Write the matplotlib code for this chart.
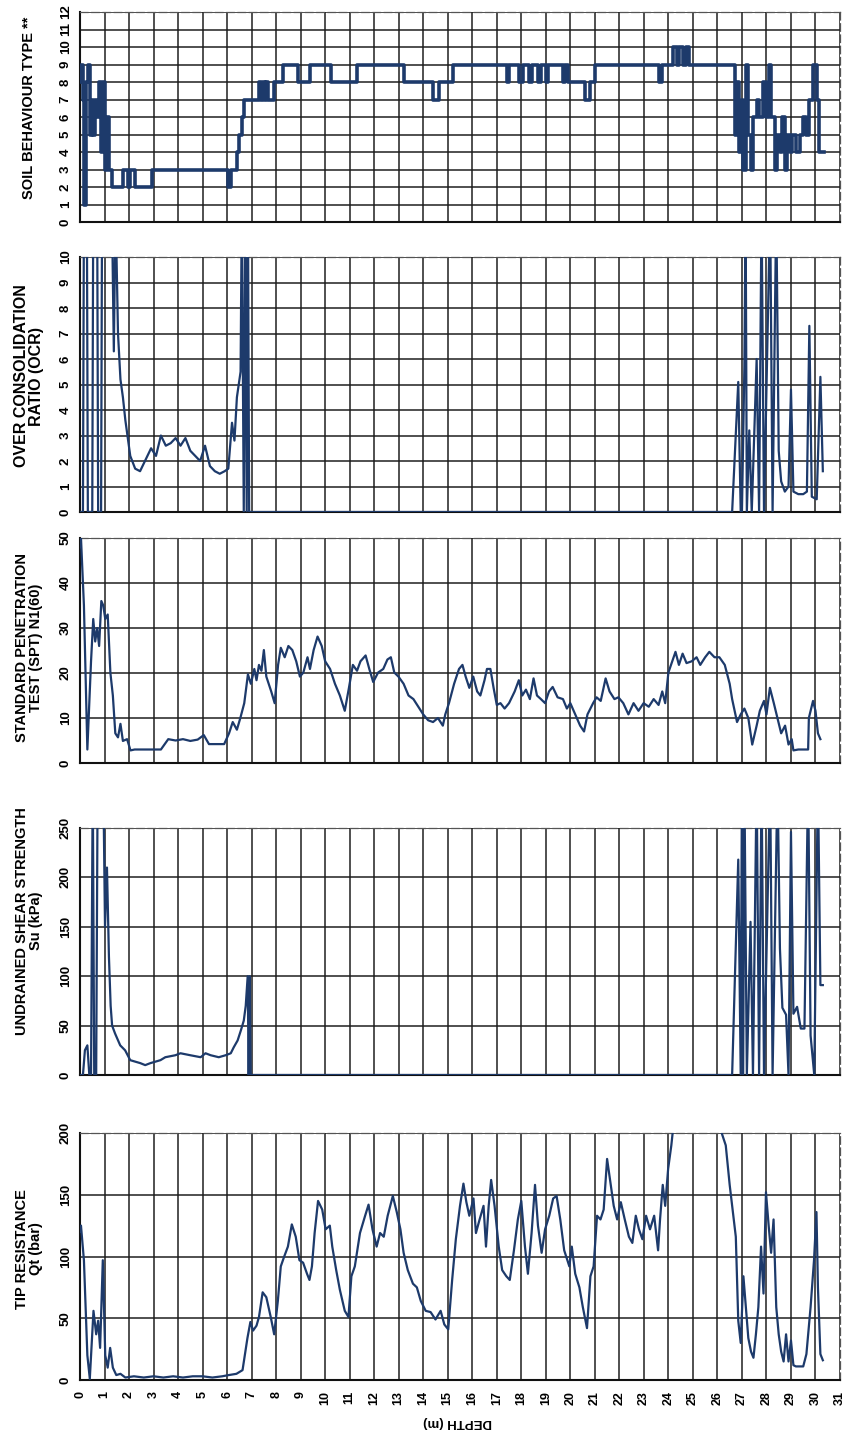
import matplotlib
matplotlib.use("Agg")
import matplotlib.pyplot as plt

plt.rcParams['font.family'] = ['Liberation Sans', 'DejaVu Sans']

# ---- data (depth in m) ----
sbt_depth = [0.0, 0.06, 0.12, 0.18, 0.26, 0.34, 0.4, 0.48, 0.55, 0.62, 0.7, 0.78, 0.86, 0.94, 1.0,
             1.1, 1.18, 1.3, 1.75, 1.95, 2.05, 2.25, 2.95, 6.05, 6.15, 6.4, 6.5, 6.6, 6.7, 7.3, 7.4,
             7.45, 7.55, 7.6, 7.65, 7.9, 8.3, 8.9, 9.4, 10.25, 11.3, 13.2, 14.4, 14.65, 15.2, 17.4,
             17.5, 17.9, 18.05, 18.3, 18.45, 18.7, 18.8, 19.0, 19.1, 19.7, 19.8, 19.9, 20.6, 20.8,
             21.0, 23.6, 23.75, 24.2, 24.35, 24.45, 24.6, 24.7, 24.85, 26.7, 26.8, 26.9, 27.0, 27.05,
             27.15, 27.25, 27.35, 27.45, 27.6, 27.7, 27.85, 28.0, 28.1, 28.2, 28.35, 28.45, 28.55,
             28.65, 28.75, 28.85, 28.95, 29.05, 29.2, 29.35, 29.5, 29.6, 29.75, 29.9, 30.05, 30.15,
             30.35]
sbt_value = [8, 9, 7, 1, 8, 9, 5, 7, 5, 7, 6, 8, 4, 8, 3,
             6, 3, 2, 3, 2, 3, 2, 3, 2, 3, 4, 5, 6, 7, 8, 7,
             8, 7, 8, 7, 8, 9, 8, 9, 8, 9, 8, 7, 8, 9, 8,
             9, 8, 9, 8, 9, 8, 9, 8, 9, 8, 9, 8, 7, 8,
             9, 8, 9, 10, 9, 10, 9, 10, 9, 5, 8, 4, 7, 3,
             9, 5, 3, 6, 7, 6, 8, 6, 9, 6, 3, 5, 4,
             6, 3, 5, 4, 5, 4, 5, 6, 5, 7, 9, 7, 4,
             4]

ocr_depth = [0.0, 0.12, 0.16, 0.28, 0.32, 0.5, 0.54, 0.7, 0.74, 0.86, 0.9, 1.3, 1.38, 1.45, 1.55,
             1.65, 1.75, 1.85, 2.05, 2.25, 2.45, 2.65, 2.9, 3.1, 3.3, 3.5, 3.7, 3.9, 4.1, 4.3, 4.5,
             4.7, 4.9, 5.1, 5.3, 5.5, 5.7, 5.9, 6.05, 6.2, 6.3, 6.4, 6.55, 6.6, 6.68, 6.74, 6.8,
             6.85, 6.9, 26.6, 26.85, 26.95, 27.0, 27.1, 27.15, 27.2, 27.3, 27.4, 27.6, 27.7, 27.8,
             27.9, 28.15, 28.25, 28.4, 28.5, 28.6, 28.75, 28.9, 29.0, 29.1, 29.3, 29.5, 29.65,
             29.75, 29.85, 30.05, 30.2, 30.3]
ocr_value = [0, 0, 12, 12, 0, 0, 12, 12, 0, 0, 12, 12, 6.3, 12, 7,
             5.2, 4.5, 3.6, 2.2, 1.7, 1.6, 2.0, 2.5, 2.2, 3.0, 2.6, 2.7, 2.9, 2.6, 2.9, 2.4,
             2.2, 2.0, 2.6, 1.8, 1.6, 1.5, 1.6, 1.7, 3.5, 2.8, 4.5, 5.5, 12, 0, 12, 0,
             12, 0, 0, 5.1, 0, 0, 5.7, 12, 0, 3.2, 0, 6.0, 0, 12,
             0, 12, 0, 12, 2.4, 1.2, 0.8, 1.0, 4.8, 0.8, 0.7, 0.7, 0.8,
             7.3, 0.6, 0.5, 5.3, 1.6]

spt_depth = [0.0, 0.04, 0.16, 0.3, 0.45, 0.54, 0.62, 0.7, 0.78, 0.87, 0.95, 1.03, 1.13, 1.24, 1.34,
             1.44, 1.55, 1.65, 1.75, 1.92, 2.06, 2.23, 3.3, 3.6, 3.9, 4.2, 4.5, 4.8, 5.05, 5.26, 5.88,
             6.08, 6.23, 6.4, 6.54, 6.7, 6.85, 6.97, 7.11, 7.2, 7.3, 7.4, 7.5, 7.6, 7.8, 7.94, 8.08,
             8.19, 8.35, 8.5, 8.66, 8.82, 8.97, 9.11, 9.28, 9.38, 9.53, 9.69, 9.86, 10.0, 10.2, 10.4,
             10.6, 10.8, 10.97, 11.13, 11.3, 11.44, 11.65, 11.8, 11.96, 12.16, 12.37, 12.54, 12.68,
             12.82, 12.99, 13.2, 13.4, 13.6, 13.8, 14.0, 14.2, 14.4, 14.6, 14.8, 14.9, 15.05, 15.26,
             15.46, 15.6, 15.73, 15.88, 16.04, 16.2, 16.33, 16.5, 16.6, 16.74, 16.87, 17.0, 17.15,
             17.32, 17.5, 17.73, 17.9, 18.04, 18.19, 18.35, 18.5, 18.64, 18.8, 18.97, 19.13, 19.28,
             19.48, 19.7, 19.86, 20.0, 20.2, 20.4, 20.56, 20.7, 20.93, 21.07, 21.24, 21.44, 21.6,
             21.8, 21.96, 22.16, 22.37, 22.58, 22.78, 22.99, 23.2, 23.4, 23.6, 23.75, 23.87, 24.0,
             24.16, 24.29, 24.43, 24.58, 24.74, 24.95, 25.15, 25.3, 25.5, 25.67, 25.88, 26.08, 26.3,
             26.5, 26.6, 26.8, 26.95, 27.1, 27.26, 27.42, 27.6, 27.73, 27.9, 28.0, 28.14, 28.3,
             28.45, 28.6, 28.76, 28.9, 29.03, 29.1, 29.3, 29.5, 29.7, 29.73, 29.9, 30.0, 30.1, 30.2]
spt_value = [48, 50, 35, 3, 22.6, 32, 27, 30, 26, 36, 35, 32, 33, 20, 15,
             6.6, 5.7, 8.7, 4.9, 5.3, 2.8, 3, 3, 5.3, 5.0, 5.3, 4.9, 5.2, 6.2, 4.2, 4.2,
             6.6, 9.1, 7.4, 10, 13.3, 19.7, 17.6, 20.9, 18.4, 21.8, 20.5, 25.1, 19.2, 15.9, 13.3, 21.8,
             25.6, 23.5, 26, 25.1, 22.6, 19.2, 20.1, 23.5, 20.9, 25.1, 28.1, 26, 22.6, 20.9, 17.6,
             15, 11.6, 16.7, 21.8, 20.5, 22.6, 23.9, 20.9, 18, 20.1, 20.9, 23, 23.5,
             20.1, 19.2, 17.6, 15, 14.2, 12.5, 10.8, 9.5, 9.1, 10, 8.3, 10.8, 13.3, 17.6,
             20.9, 21.8, 19.2, 16.7, 19.2, 15.9, 15, 18.4, 20.9, 20.9, 16.7, 12.9, 13.3,
             12.1, 13.3, 15.9, 18.4, 15, 16.3, 14.2, 18.8, 15, 14.2, 13.3, 15.9, 16.9,
             14.6, 14.2, 12.1, 13.3, 10.8, 8.3, 7, 10.8, 13.3, 14.6, 13.8, 18.8, 15.9,
             14.2, 14.6, 13.3, 10.8, 13.3, 11.6, 13.3, 12.5, 14.2, 12.9, 15.9, 13.3, 20.1,
             22.6, 24.7, 21.8, 24.3, 22.2, 22.6, 23.5, 21.8, 23.5, 24.7, 23.5, 23.5, 21.8,
             17.6, 14.2, 9.1, 10.8, 12.1, 10, 4.1, 8.3, 11.6, 13.8, 10.8, 16.7, 13.3,
             10, 6.6, 8.3, 4.1, 5.3, 2.8, 3, 3, 3, 10, 13.8, 11.6, 6.6, 5.3]

su_depth = [0.0, 0.12, 0.2, 0.3, 0.38, 0.45, 0.52, 0.58, 0.66, 0.72, 0.8, 0.88, 0.95, 1.02, 1.1,
            1.18, 1.25, 1.31, 1.43, 1.64, 1.84, 2.05, 2.46, 2.66, 2.87, 3.28, 3.48, 3.89, 4.1, 4.5,
            4.92, 5.12, 5.33, 5.66, 5.94, 6.15, 6.27, 6.43, 6.56, 6.68, 6.76, 6.84, 6.88, 6.92,
            6.96, 7.0, 26.6, 26.85, 26.95, 27.0, 27.05, 27.1, 27.2, 27.35, 27.45, 27.6, 27.7, 27.8,
            27.9, 28.15, 28.25, 28.45, 28.55, 28.65, 28.8, 28.9, 29.0, 29.1, 29.25, 29.4, 29.55,
            29.7, 29.8, 29.95, 30.1, 30.2, 30.3]
su_value = [0, 0, 25, 30, 0, 0, 300, 0, 0, 300, 300, 260, 300, 150, 210,
            120, 70, 50, 42, 30, 25, 15, 12, 10, 12, 15, 18, 20, 22, 20,
            18, 22, 20, 18, 20, 22, 28, 35, 45, 55, 70, 100, 0, 100,
            0, 0, 0, 218, 0, 300, 0, 300, 0, 155, 0, 300, 0, 300,
            0, 300, 0, 300, 128, 68, 61, 0, 246, 62, 69, 47, 47,
            300, 40, 0, 300, 91, 91]

qt_depth = [0.0, 0.04, 0.16, 0.3, 0.4, 0.55, 0.66, 0.74, 0.82, 0.93, 1.03, 1.13, 1.23, 1.34, 1.48,
            1.65, 1.85, 2.2, 2.6, 3.0, 3.4, 3.8, 4.2, 4.6, 5.0, 5.4, 5.8, 6.07, 6.38, 6.63, 6.83,
            6.95, 7.06, 7.2, 7.3, 7.45, 7.6, 7.78, 7.92, 8.07, 8.19, 8.33, 8.48, 8.64, 8.8, 8.95,
            9.1, 9.26, 9.36, 9.46, 9.57, 9.71, 9.88, 10.02, 10.19, 10.29, 10.45, 10.6, 10.8, 10.95,
            11.07, 11.21, 11.42, 11.63, 11.77, 11.93, 12.1, 12.24, 12.39, 12.55, 12.76, 12.92, 13.07,
            13.2, 13.37, 13.58, 13.74, 13.9, 14.1, 14.3, 14.5, 14.71, 14.86, 15.02, 15.18, 15.33,
            15.5, 15.64, 15.76, 15.88, 16.05, 16.15, 16.3, 16.46, 16.56, 16.67, 16.77, 16.91, 17.08,
            17.22, 17.39, 17.53, 17.7, 17.86, 18.0, 18.15, 18.27, 18.42, 18.56, 18.68, 18.83, 18.97,
            19.14, 19.3, 19.44, 19.59, 19.75, 19.96, 20.06, 20.2, 20.37, 20.51, 20.68, 20.82, 20.95,
            21.09, 21.23, 21.36, 21.5, 21.65, 21.77, 21.91, 22.06, 22.22, 22.39, 22.53, 22.67, 22.8,
            22.94, 23.09, 23.25, 23.42, 23.58, 23.66, 23.77, 23.87, 23.99, 24.12, 24.2, 24.3, 26.0,
            26.09, 26.34, 26.5, 26.75, 26.85, 26.95, 27.06, 27.16, 27.26, 27.37, 27.47, 27.57, 27.67,
            27.78, 27.88, 27.98, 28.09, 28.19, 28.29, 28.4, 28.5, 28.6, 28.7, 28.8, 28.9, 29.0, 29.1,
            29.2, 29.35, 29.5, 29.63, 29.8, 29.94, 30.04, 30.1, 30.2, 30.3]
qt_value = [120, 125, 97, 20, 1, 56, 37, 48, 26, 97, 20, 10, 26, 10, 4,
            5, 2, 3, 2, 3, 2, 3, 2, 3, 3, 2, 3, 4, 5, 8, 34,
            47, 40, 44, 51, 71, 67, 51, 37, 64, 92, 100, 108, 126, 116, 97,
            95, 86, 81, 92, 119, 145, 138, 122, 125, 108, 89, 73, 56, 51,
            84, 92, 119, 133, 142, 122, 108, 119, 116, 133, 149, 136, 122,
            103, 89, 78, 75, 64, 56, 55, 49, 56, 45, 41, 81, 114,
            141, 159, 144, 133, 147, 119, 130, 141, 108, 141, 162, 141, 108,
            89, 84, 81, 105, 130, 145, 108, 86, 119, 158, 125, 103, 122,
            133, 147, 149, 130, 105, 92, 108, 86, 75, 59, 42, 84, 92,
            133, 130, 138, 179, 158, 141, 130, 144, 130, 116, 111, 133, 122,
            114, 133, 122, 133, 105, 130, 158, 141, 171, 190, 205, 230, 230,
            205, 190, 158, 116, 48, 30, 84, 59, 34, 23, 18, 37, 59,
            108, 70, 152, 125, 103, 130, 59, 37, 23, 15, 37, 15, 32, 12,
            11, 11, 11, 21, 59, 97, 136, 75, 21, 16]

# label, depth, value, ymax, yticks, axes bottom (px from bottom), height (px), label centre y (px from top), label size
panels = [
    ("SOIL BEHAVIOUR TYPE **", sbt_depth, sbt_value, 12, list(range(0, 13)), 1435 - 222, 210, 108, 10.5),
    ("OVER CONSOLIDATION\nRATIO (OCR)", ocr_depth, ocr_value, 10, list(range(0, 11)), 1435 - 512, 255, 376, 11.5),
    ("STANDARD PENETRATION\nTEST (SPT) N1(60)", spt_depth, spt_value, 50, [0, 10, 20, 30, 40, 50], 1435 - 763, 225, 648, 10.5),
    ("UNDRAINED SHEAR STRENGTH\nSu (kPa)", su_depth, su_value, 250, [0, 50, 100, 150, 200, 250], 1435 - 1075, 247, 921, 10.5),
    ("TIP RESISTANCE\nQt (bar)", qt_depth, qt_value, 200, [0, 50, 100, 150, 200], 1435 - 1380, 247, 1249, 10.5),
]

W, H = 848, 1435
fig = plt.figure(figsize=(W / 100, H / 100), dpi=100)
line_col = '#1d3a6b'

for i, (label, d, v, top, yt, bottom_px, height_px, lab_y, lab_fs) in enumerate(panels):
    ax = fig.add_axes([80 / W, bottom_px / H, 760 / W, height_px / H])
    if i == 0:
        ax.plot(d, v, color=line_col, lw=2.6, drawstyle='steps-post', zorder=3)
    else:
        ax.plot(d, v, color=line_col, lw=1.6, zorder=3)
    ax.set_xlim(0, 31)
    ax.set_ylim(0, top)
    ax.set_xticks(range(0, 32))
    ax.set_yticks(yt)
    ax.grid(True, color='#1a1a1a', lw=1.2, alpha=0.9)
    ax.set_axisbelow(True)
    ax.tick_params(length=0, pad=6)
    ax.set_yticklabels([str(t) for t in yt], rotation=90, va='center',
                       fontsize=9.5, fontweight='bold')
    for s in ['left', 'bottom']:
        ax.spines[s].set_color('#111111')
        ax.spines[s].set_linewidth(1.5)
    for s in ['top', 'right']:
        ax.spines[s].set_color('#555555')
        ax.spines[s].set_linewidth(0.9)
        ax.spines[s].set_linestyle((0, (6, 3)))
    if i == 4:
        ax.set_xticklabels([str(t) for t in range(0, 32)], rotation=90,
                           fontsize=9, fontweight='bold')
        ax.tick_params(axis='x', pad=8)
    else:
        ax.set_xticklabels([])
    fig.text(29 / W, 1 - lab_y / H, label, rotation=90,
             ha='center', va='center', fontsize=lab_fs, fontweight='bold',
             multialignment='center', linespacing=1.05)

fig.text(458 / W, 1 - 1422 / H, "DEPTH (m)", rotation=180, ha='center', va='center',
         fontsize=9.5, fontweight='bold')

fig.savefig("out.png", dpi=100, facecolor='white')
